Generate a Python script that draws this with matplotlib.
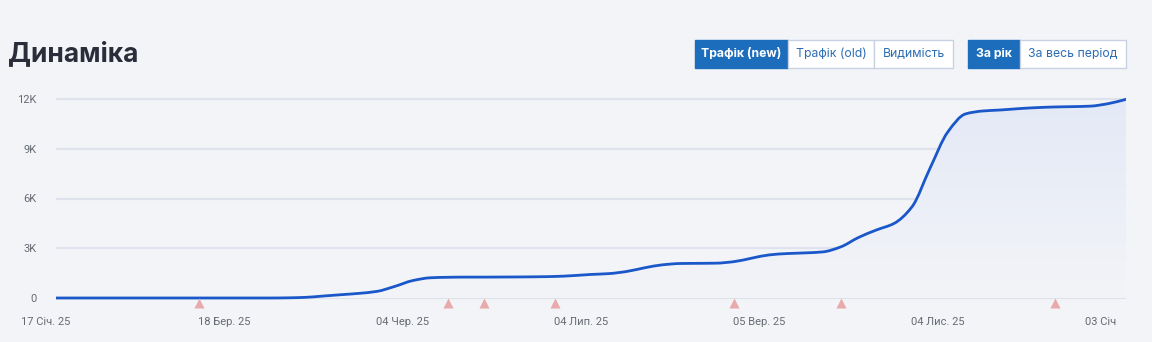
import matplotlib
matplotlib.use("Agg")
import matplotlib.pyplot as plt
import matplotlib.transforms as mtransforms
from matplotlib.patches import Rectangle, PathPatch
from matplotlib.path import Path
import numpy as np

# traffic curve, one value per step along the timeline (label every 10 steps)
traffic = [0, 0, 0, 0, 0, 0, 0, 0, 0, 0,
           0, 0, 0, 10, 40, 120, 200, 280, 400, 700,
           1050, 1220, 1250, 1260, 1260, 1265, 1270, 1280, 1300, 1350,
           1420, 1470, 1600, 1820, 2000, 2080, 2090, 2100, 2190, 2400,
           2600, 2680, 2720, 2780, 3080, 3650, 4100, 4500, 5500, 7800,
           10000, 11100, 11280, 11340, 11420, 11480, 11520, 11540, 11570, 11720,
           11980]
date_labels = ["17 Січ. 25", "18 Бер. 25", "04 Чер. 25", "04 Лип. 25",
               "05 Вер. 25", "04 Лис. 25", "03 Січ"]
label_steps = [0, 10, 20, 30, 40, 50, 60]
event_steps = [8, 22, 24, 28, 38, 44, 56]
y_ticks = [0, 3000, 6000, 9000, 12000]
y_labels = ["0", "3K", "6K", "9K", "12K"]
metric_buttons = ["Трафік (new)", "Трафік (old)", "Видимість"]
period_buttons = ["За рік", "За весь період"]

BG = "#f3f4f8"
LINE = "#1a57c9"
BLUE_BTN = "#1c6ebd"
W, H = 1152, 342


def spline_path(xs, ys):
    # monotone cubic bezier through the points (drawing style only)
    xs = np.asarray(xs, float)
    ys = np.asarray(ys, float)
    d = np.diff(ys) / np.diff(xs)
    m = np.zeros_like(ys)
    m[0], m[-1] = d[0], d[-1]
    for i in range(1, len(ys) - 1):
        if d[i - 1] * d[i] > 0:
            m[i] = 2 / (1 / d[i - 1] + 1 / d[i])
    verts = [(xs[0], ys[0])]
    codes = [Path.MOVETO]
    for i in range(len(xs) - 1):
        h = (xs[i + 1] - xs[i]) / 3
        verts += [(xs[i] + h, ys[i] + m[i] * h),
                  (xs[i + 1] - h, ys[i + 1] - m[i + 1] * h),
                  (xs[i + 1], ys[i + 1])]
        codes += [Path.CURVE4] * 3
    return verts, codes


fig = plt.figure(figsize=(W / 100, H / 100), dpi=100, facecolor=BG)

# axes placed in pixels: 0 at y=298, 12K at y=99 (from top)
top_px, bot_px = 90, 310
ax = fig.add_axes([56 / W, (H - bot_px) / H, (1126 - 56) / W, (bot_px - top_px) / H])
ax.set_facecolor(BG)
per_px = 12000 / 199
ax.set_ylim(-(bot_px - 298) * per_px, 12000 + (99 - top_px) * per_px)
x = np.arange(len(traffic))
ax.set_xlim(0, len(traffic) - 1)

for s in ax.spines.values():
    s.set_visible(False)
for v in y_ticks:
    ax.axhline(v, color="#dde2ec", lw=1.6, zorder=0)

verts, codes = spline_path(x, traffic)

# gradient fill under the line
y0, y1 = ax.get_ylim()
grad = np.linspace(1, 0, 256).reshape(-1, 1)
img = ax.imshow(grad, extent=[0, len(traffic) - 1, 0, 12000], aspect="auto",
                cmap=matplotlib.colors.LinearSegmentedColormap.from_list(
                    "f", [BG, "#e3e9f6"]), zorder=1)
fill_path = Path(verts + [(x[-1], 0), (0, 0), (0, 0)],
                 codes + [Path.LINETO, Path.LINETO, Path.CLOSEPOLY])
img.set_clip_path(fill_path, transform=ax.transData)
ax.set_ylim(y0, y1)

ax.add_patch(PathPatch(Path(verts, codes), facecolor="none", edgecolor=LINE,
                       lw=2, zorder=3, capstyle="round"))

# event markers just below the zero line
ax.plot(event_steps, [-5 * per_px] * len(event_steps), linestyle="none",
        marker="^", ms=7, color="#e8aaaa", mec="none", zorder=4, clip_on=False)

ax.set_yticks(y_ticks)
ax.set_yticklabels(y_labels)
ax.set_xticks(label_steps)
ax.set_xticklabels(date_labels)
ax.tick_params(length=0, labelsize=8, labelcolor="#666a73")
ax.tick_params(axis="y", pad=14)
ax.tick_params(axis="x", pad=5)
shift = mtransforms.ScaledTranslation(-10 / 100, 0, fig.dpi_scale_trans)
for lbl in ax.get_xticklabels():
    lbl.set_fontfamily("Roboto")
    lbl.set_transform(lbl.get_transform() + shift)
ax.get_xticklabels()[-1].set_horizontalalignment("right")
for lbl in ax.get_yticklabels():
    lbl.set_fontfamily("Roboto")
    lbl.set_horizontalalignment("right")

# title
fig.text(8 / W, (H - 61) / H, "Динаміка", fontsize=19, fontweight="bold",
         color="#2b2d3b", family="Inter", va="baseline")


def button(x0, x1, text, selected):
    y_top, y_bot = 40, 68
    fig.patches.append(Rectangle((x0 / W, (H - y_bot) / H), (x1 - x0) / W,
                                 (y_bot - y_top) / H, transform=fig.transFigure,
                                 facecolor=BLUE_BTN if selected else "white",
                                 edgecolor=BLUE_BTN if selected else "#c8d2e2",
                                 lw=1, zorder=2))
    fig.text((x0 + x1) / 2 / W, (H - 54) / H, text, ha="center", va="center",
             fontsize=8.8, family="Inter",
             fontweight="bold" if selected else "normal",
             color="white" if selected else "#2c6db5", zorder=3)


edges = [695, 788, 874, 953]
for i, t in enumerate(metric_buttons):
    button(edges[i], edges[i + 1], t, i == 0)
edges = [968, 1020, 1126]
for i, t in enumerate(period_buttons):
    button(edges[i], edges[i + 1], t, i == 0)

fig.savefig("out.png", dpi=100, facecolor=BG)
